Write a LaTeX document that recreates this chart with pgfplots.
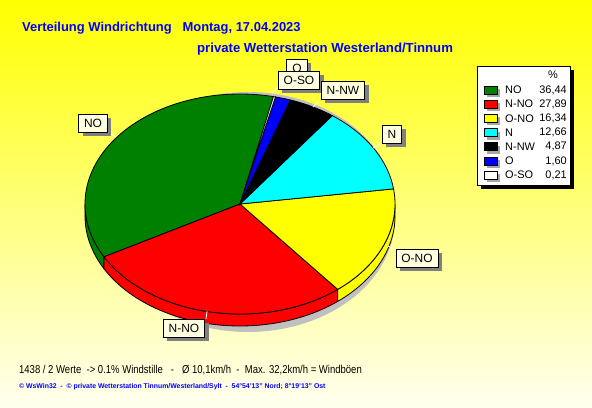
\documentclass[border=0pt]{standalone}
\usepackage{pgfplots}
\pgfplotsset{compat=1.18}
\usepackage{fontspec}
\setmainfont{Liberation Sans}
\usetikzlibrary{shadows}
\definecolor{cNO}{RGB}{0,128,0}
\definecolor{cNNO}{RGB}{255,0,0}
\definecolor{cONO}{RGB}{255,255,0}
\definecolor{cN}{RGB}{0,255,255}
\definecolor{cNNW}{RGB}{0,0,0}
\definecolor{cO}{RGB}{0,0,255}
\definecolor{cOSO}{RGB}{255,255,255}
\definecolor{titleblue}{RGB}{0,0,255}
\definecolor{tipfill}{RGB}{255,255,225}
\definecolor{bgtop}{RGB}{255,255,0}
\definecolor{bgbot}{RGB}{255,255,240}
\definecolor{pieshadow}{RGB}{192,192,192}
\definecolor{boxshadow}{RGB}{128,128,128}

\def\cx{240}\def\cy{203}\def\rx{155}\def\ry{110}\def\dep{12}
\def\aStart{77.5}

% side wall of a slice (only the front half, 180..360)
\newcommand\sideslice[2]{%
  \pgfmathsetmacro\aE{\aS+3.6*#1}%
  \pgfmathsetmacro\wA{max(\aS,180)}%
  \pgfmathsetmacro\wB{min(\aE,360)}%
  \ifdim\wB pt>\wA pt
    \edef\doit{\noexpand\addplot[draw=black, line width=0.8bp, fill=#2, domain=\wA:\wB, samples=80]
      ({\cx+\rx*cos(x)},{\cy+\ry*sin(x)}) -- ++(0bp,-\dep bp)
      arc[start angle=\wB, end angle=\wA, x radius=\rx bp, y radius=\ry bp] -- cycle;}%
    \doit
  \fi
  \global\let\aS\aE
}
% top face of a slice
\newcommand\topslice[2]{%
  \pgfmathsetmacro\aE{\aS+3.6*#1}%
  \edef\doit{\noexpand\addplot[draw=black, line width=0.8bp, fill=#2, domain=\aS:\aE, samples=80]
    ({\cx+\rx*cos(x)},{\cy+\ry*sin(x)}) -- (axis cs:\cx,\cy) -- cycle;}%
  \doit
  \global\let\aS\aE
}

\tikzset{
  lbl/.style={draw=black, line width=0.8bp, fill=tipfill, font=\fontsize{12}{14}\selectfont,
    inner xsep=5.5bp, inner ysep=0bp, minimum height=18bp,
    drop shadow={shadow xshift=4bp, shadow yshift=-4bp, fill=boxshadow, opacity=1}},
  leader/.style={draw=white, line width=0.8bp},
  legname/.style={anchor=west, font=\fontsize{11}{13}\selectfont, inner sep=0pt},
  legval/.style={anchor=east, font=\fontsize{11}{13}\selectfont, inner sep=0pt},
}
\newcommand\legrow[4]{% y, color, name, value
  \fill[gray!70] (axis cs:487,#1-7) rectangle (axis cs:500,#1+1);
  \filldraw[fill=#2, draw=black, line width=0.8bp] (axis cs:484,#1-4) rectangle (axis cs:497,#1+4);
  \node[legname] at (axis cs:505,#1) {#3};
  \node[legval] at (axis cs:567,#1) {#4};
}

\begin{document}
\begin{tikzpicture}
\begin{axis}[x=1bp, y=1bp, xmin=0, xmax=592, ymin=0, ymax=407, hide axis, clip=false]
% background
\fill[top color=bgtop, bottom color=bgbot] (axis cs:0,0) rectangle (axis cs:592,407);
% pie shadow
\addplot[fill=pieshadow, draw=none, domain=0:360, samples=181]
  ({248+147*cos(x)},{201+114*sin(x)-12*(x>180)}) -- cycle;
% side walls
\let\aS\aStart
\sideslice{36.44}{cNO}
\sideslice{27.89}{cNNO}
\sideslice{16.34}{cONO}
\sideslice{12.66}{cN}
\sideslice{4.87}{cNNW}
\sideslice{1.60}{cO}
\sideslice{0.21}{cOSO}
% top faces
\let\aS\aStart
\topslice{36.44}{cNO}
\topslice{27.89}{cNNO}
\topslice{16.34}{cONO}
\topslice{12.66}{cN}
\topslice{4.87}{cNNW}
\topslice{1.60}{cO}
\topslice{0.21}{cOSO}
% leader lines
\draw[leader] (axis cs:107,275) -- (axis cs:116,270);
\draw[leader] (axis cs:207,96) -- (axis cs:206,88);
\draw[leader] (axis cs:388,161) -- (axis cs:396,157);
\draw[leader] (axis cs:373,259) -- (axis cs:382,264);
\draw[leader] (axis cs:313,300) -- (axis cs:318,305);
\draw[leader] (axis cs:272,314) -- (axis cs:278,320);
\draw[leader] (axis cs:284,313) -- (axis cs:290,330);
% labels
\node[lbl] at (axis cs:297,339) {O};
\node[lbl] at (axis cs:299,327) {O-SO};
\node[lbl] at (axis cs:343,317) {N-NW};
\node[lbl] at (axis cs:392,273) {N};
\node[lbl] at (axis cs:93,284) {NO};
\node[lbl] at (axis cs:417,149) {O-NO};
\node[lbl] at (axis cs:184,79) {N-NO};
% legend
\fill[black] (axis cs:481,218) rectangle (axis cs:574,337);
\filldraw[fill=white, draw=black, line width=0.8bp] (axis cs:477,222) rectangle (axis cs:570,341);
\node[font=\fontsize{11}{13}\selectfont, inner sep=0pt] at (axis cs:553,332) {\%};
\legrow{317}{cNO}{NO}{36,44}
\legrow{302.8}{cNNO}{N-NO}{27,89}
\legrow{288.6}{cONO}{O-NO}{16,34}
\legrow{274.4}{cN}{N}{12,66}
\legrow{260.2}{cNNW}{N-NW}{4,87}
\legrow{246}{cO}{O}{1,60}
\legrow{231.8}{cOSO}{O-SO}{0,21}
% titles
\node[anchor=base west, inner sep=0pt, text=titleblue, font=\bfseries\fontsize{13}{15}\selectfont] at (axis cs:22,376) {Verteilung Windrichtung\ \ \ Montag, 17.04.2023};
\node[anchor=base west, inner sep=0pt, text=titleblue, font=\bfseries\fontsize{13.2}{15}\selectfont] at (axis cs:197,355) {private Wetterstation Westerland/Tinnum};
% footer
\node[anchor=base west, inner sep=0pt, xscale=0.83, font=\fontsize{11.5}{13}\selectfont] at (axis cs:19,34) {1438 / 2 Werte\ \ -> 0.1\% Windstille\ \ \ -\ \ \ Ø 10,1km/h\ \ -\ \ Max. 32,2km/h = Windböen};
\node[anchor=base west, inner sep=0pt, text=titleblue, font=\bfseries\fontsize{6.9}{8}\selectfont] at (axis cs:19,19) {© WsWin32\ \ -\ \ © private Wetterstation Tinnum/Westerland/Sylt\ \ -\ \ 54°54'13" Nord; 8°19'13" Ost};
\end{axis}
\end{tikzpicture}
\end{document}
